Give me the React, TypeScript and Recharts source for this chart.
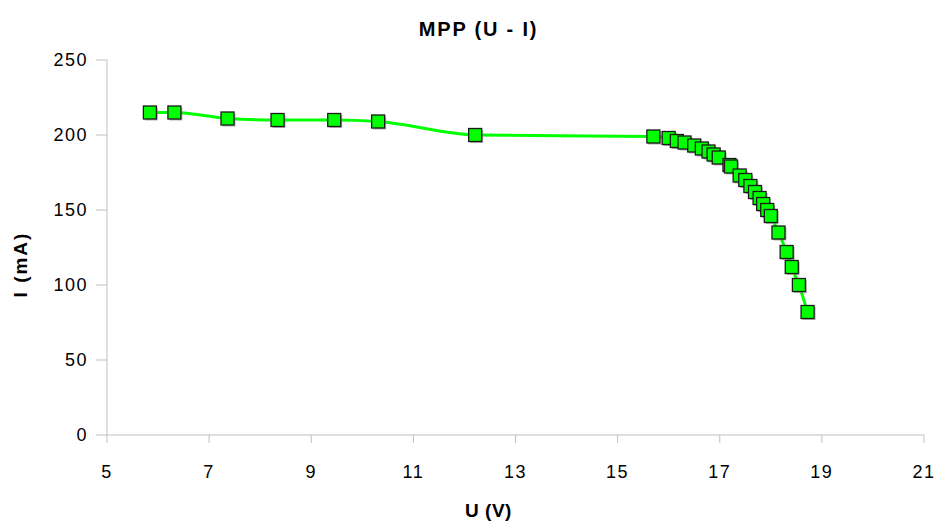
import { LineChart, Line, XAxis, YAxis } from 'recharts';

const uValues = [
  5.84, 6.32, 7.36, 8.34, 9.45, 10.31, 12.21, 15.7, 16.0, 16.16, 16.31, 16.5,
  16.65, 16.78, 16.88, 16.98, 17.19, 17.22, 17.39, 17.5, 17.6, 17.69, 17.78,
  17.85, 17.93, 18.0, 18.15, 18.31, 18.41, 18.55, 18.72,
];
const iValues = [
  215, 215, 211, 210, 210, 209, 200, 199, 198, 196, 195, 193, 191, 189, 187,
  185, 180, 179, 173, 170, 166, 162, 158, 154, 150, 146, 135, 122, 112, 100, 82,
];
const xTicks = [5, 7, 9, 11, 13, 15, 17, 19, 21];
const yTicks = [0, 50, 100, 150, 200, 250];

const data = uValues.map((u, i) => ({ u, i: iValues[i] }));

const FONT = '"Liberation Sans", Arial, sans-serif';
const AXIS_COLOR = '#c0c0c0';

const SquareDot = (props: any) => {
  const { cx, cy, index } = props;
  if (cx == null || cy == null) return <g key={index} />;
  const s = 13;
  return (
    <g key={index}>
      <rect x={cx - s / 2 + 1.5} y={cy - s / 2 + 1.5} width={s} height={s} fill="#808080" opacity={0.6} />
      <rect x={cx - s / 2} y={cy - s / 2} width={s} height={s} fill="#00ff00" stroke="#1a1a1a" strokeWidth={1.3} />
    </g>
  );
};

// axis titles sit a little off-centre in the original
const YLabel = (props: any) => {
  const { viewBox } = props;
  const x = 27;
  const y = viewBox.y + viewBox.height / 2 + 17;
  return (
    <text x={x} y={y} transform={`rotate(-90, ${x}, ${y})`} textAnchor="middle" fontFamily={FONT} fontWeight="bold" fontSize={19} letterSpacing={2} fill="#000">
      I (mA)
    </text>
  );
};

const XLabel = (props: any) => {
  const { viewBox } = props;
  const x = viewBox.x + viewBox.width / 2 - 27;
  return (
    <text x={x} y={517} textAnchor="middle" fontFamily={FONT} fontWeight="bold" fontSize={19} letterSpacing={0.5} fill="#000">
      U (V)
    </text>
  );
};

export default function App() {
  return (
    <div style={{ position: 'absolute', left: 0, top: 0, width: 937, height: 524, background: '#fff' }}>
      <div
        style={{
          position: 'absolute',
          left: 0,
          top: 18,
          width: 937,
          textAlign: 'center',
          fontFamily: FONT,
          fontWeight: 'bold',
          fontSize: 20,
          paddingLeft: 20,
          boxSizing: 'border-box',
          letterSpacing: 1.8,
        }}
      >
        MPP (U - I)
      </div>
      <LineChart width={937} height={524} data={data} margin={{ top: 60, right: 13, bottom: 0, left: 0 }}>
        <XAxis
          type="number"
          dataKey="u"
          domain={[5, 21]}
          ticks={xTicks}
          height={89}
          stroke={AXIS_COLOR}
          tickSize={8}
          tick={{ fill: '#000', fontSize: 18, fontFamily: FONT, letterSpacing: 1.5, dy: 20 }}
          label={<XLabel />}
        />
        <YAxis
          type="number"
          domain={[0, 250]}
          ticks={yTicks}
          width={107}
          stroke={AXIS_COLOR}
          tickSize={11}
          tick={{ fill: '#000', fontSize: 18, fontFamily: FONT, letterSpacing: 1.5, dx: -6 }}
          label={<YLabel />}
        />
        <Line
          type="monotone"
          dataKey="i"
          stroke="#00ff00"
          strokeWidth={3}
          dot={SquareDot}
          activeDot={false}
          isAnimationActive={false}
        />
      </LineChart>
    </div>
  );
}
